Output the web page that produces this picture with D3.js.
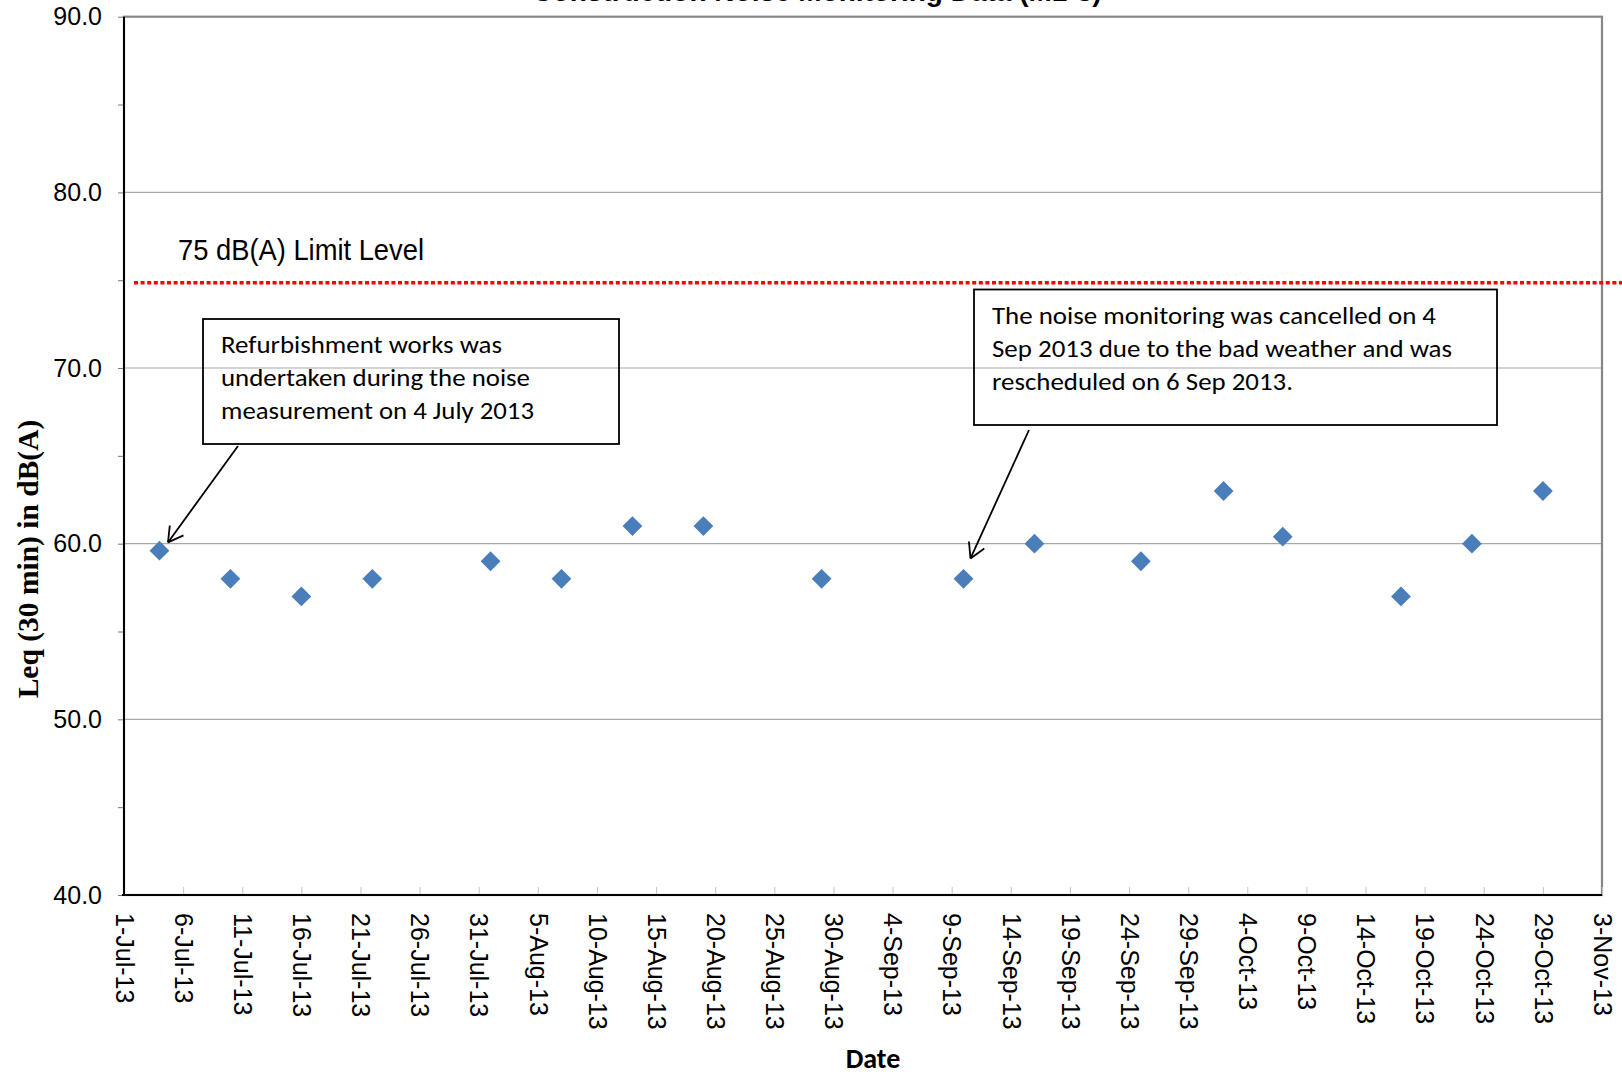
<!DOCTYPE html>
<html lang="en">
<head>
<meta charset="UTF-8">
<script src="https://d3js.org/d3.v7.min.js"></script>
<title>Noise Monitoring Data</title>
<style>
  body { margin: 0; background: #fff; }
  svg { display: block; font-family: "Liberation Sans", Arial, sans-serif; }
</style>
</head>
<body>
<svg id="chart" width="1622" height="1076"></svg>
<script>
// measurement dates and Leq (30 min) readings
const measureDates = ["2013-07-04", "2013-07-10", "2013-07-16", "2013-07-22", "2013-08-01",
    "2013-08-07", "2013-08-13", "2013-08-19", "2013-08-29", "2013-09-10", "2013-09-16",
    "2013-09-25", "2013-10-02", "2013-10-07", "2013-10-17", "2013-10-23", "2013-10-29"];
const leqValues = [59.6, 58.0, 57.0, 58.0, 59.0, 58.0, 61.0, 61.0, 58.0, 58.0, 60.0,
    59.0, 63.0, 60.4, 57.0, 60.0, 63.0];

const dateRange = ["2013-07-01", "2013-11-03"];
const yTicks = [40, 45, 50, 55, 60, 65, 70, 75, 80, 85, 90];
const gridValues = [50, 60, 70, 80];
const limitLevel = 74.85;   // dotted line sits just under 75 in the picture
const limitLabel = "75 dB(A) Limit Level";

const titleText = "Construction Noise Monitoring Data (M1-3)";
const yTitle = "Leq (30 min) in dB(A)";
const xTitle = "Date";

const note1 = ["Refurbishment works was", "undertaken during the noise", "measurement on 4 July 2013"];
const note2 = ["The noise monitoring was cancelled on 4", "Sep 2013 due to the bad weather and was",
    "rescheduled on 6 Sep 2013."];

const W = 1622, H = 1076;
const plotL = 124, plotR = 1602, plotT = 16.7, plotB = 895;

const svg = d3.select("#chart");
const parse = d3.utcParse("%Y-%m-%d");

const x = d3.scaleUtc()
    .domain(dateRange.map(parse))
    .range([plotL, plotR]);
const y = d3.scaleLinear()
    .domain([40, 90])
    .range([plotB, plotT]);

// title, mostly above the page edge like the original
svg.append("text")
    .attr("x", 817).attr("y", 1)
    .attr("text-anchor", "middle")
    .style("font-size", "28px").style("font-weight", "bold")
    .text(titleText);

// gridlines
svg.append("g").selectAll("line")
    .data(gridValues)
    .join("line")
    .attr("x1", plotL).attr("x2", plotR)
    .attr("y1", d => y(d)).attr("y2", d => y(d))
    .attr("stroke", "#a8a8a8").attr("stroke-width", 1.2);

// plot frame
svg.append("rect")
    .attr("x", plotL).attr("y", plotT)
    .attr("width", plotR - plotL).attr("height", plotB - plotT)
    .attr("fill", "none").attr("stroke", "#878787").attr("stroke-width", 2.2);

// y axis
const yAxis = svg.append("g")
    .attr("transform", `translate(${plotL},0)`)
    .call(d3.axisLeft(y).tickValues(yTicks).tickSize(6).tickPadding(16)
        .tickFormat(d => d % 10 === 0 ? d.toFixed(1) : ""));
yAxis.select(".domain").remove();
yAxis.selectAll(".tick line").attr("stroke", "#777");
yAxis.selectAll("text").style("font-size", "25px").attr("fill", "#000")
    .style("font-family", "'Liberation Sans', Arial, sans-serif");

// x axis, ticks every five days, labels turned downwards
const tickDates = d3.utcDay.range(x.domain()[0], d3.utcDay.offset(x.domain()[1], 1), 5);
const xAxis = svg.append("g")
    .attr("transform", `translate(0,${plotB})`)
    .call(d3.axisBottom(x).tickValues(tickDates).tickSizeInner(-8).tickSizeOuter(0)
        .tickFormat(d3.utcFormat("%-d-%b-%y")));
xAxis.select(".domain").remove();
xAxis.selectAll(".tick line").attr("stroke", "#c4c4c4");
xAxis.selectAll("text")
    .attr("y", 0).attr("x", 18).attr("dy", "0.35em")
    .attr("transform", "rotate(90)")
    .style("text-anchor", "start")
    .style("font-size", "25px").attr("fill", "#000")
    .style("font-family", "'Liberation Sans', Arial, sans-serif");

// black axis lines on left and bottom
svg.append("line")
    .attr("x1", plotL).attr("x2", plotL).attr("y1", plotT).attr("y2", plotB + 1)
    .attr("stroke", "#000").attr("stroke-width", 2);
svg.append("line")
    .attr("x1", plotL - 2).attr("x2", plotR).attr("y1", plotB).attr("y2", plotB)
    .attr("stroke", "#000").attr("stroke-width", 2);

// axis titles
svg.append("text")
    .attr("transform", "translate(38,559) rotate(-90)")
    .attr("text-anchor", "middle")
    .style("font-family", "'Liberation Serif', 'Times New Roman', serif")
    .style("font-size", "29.5px").style("font-weight", "bold")
    .text(yTitle);
svg.append("text")
    .attr("x", 873).attr("y", 1068)
    .attr("text-anchor", "middle")
    .style("font-family", "Carlito, Lato, sans-serif")
    .style("font-size", "28px").style("font-weight", "bold")
    .text(xTitle);

// limit line
svg.append("line")
    .attr("x1", plotL + 10).attr("x2", W)
    .attr("y1", y(limitLevel)).attr("y2", y(limitLevel))
    .attr("stroke", "#ff0000").attr("stroke-width", 3.6)
    .attr("stroke-dasharray", "4,2.6");
svg.append("text")
    .attr("x", 178).attr("y", 260)
    .attr("textLength", 246).attr("lengthAdjust", "spacingAndGlyphs")
    .style("font-size", "30px")
    .text(limitLabel);

// data points as diamonds
svg.append("g").selectAll("path")
    .data(measureDates.map((d, i) => ({ date: parse(d), value: leqValues[i] })))
    .join("path")
    .attr("d", d3.symbol(d3.symbolSquare, 196))
    .attr("transform", d => `translate(${x(d.date)},${y(d.value)}) rotate(45)`)
    .attr("fill", "#4a7ebb");

// annotations
const notes = svg.append("g");

function noteBox(lines, bx, by, bw, bh, baselines, widths) {
    notes.append("rect")
        .attr("x", bx).attr("y", by).attr("width", bw).attr("height", bh)
        .attr("fill", "none").attr("stroke", "#000").attr("stroke-width", 1.8);
    notes.selectAll(null)
        .data(lines)
        .join("text")
        .attr("x", bx + 18).attr("y", (d, i) => baselines[i])
        .attr("textLength", (d, i) => widths[i]).attr("lengthAdjust", "spacingAndGlyphs")
        .style("font-family", "Carlito, Lato, sans-serif")
        .style("font-size", "24.5px")
        .text(d => d);
}

function arrow(x1, y1, x2, y2) {
    notes.append("line")
        .attr("x1", x1).attr("y1", y1).attr("x2", x2).attr("y2", y2)
        .attr("stroke", "#000").attr("stroke-width", 1.8);
    const back = Math.atan2(y1 - y2, x1 - x2);
    const len = 17, spread = 0.52;
    for (const s of [-1, 1]) {
        notes.append("line")
            .attr("x1", x2).attr("y1", y2)
            .attr("x2", x2 + len * Math.cos(back + s * spread))
            .attr("y2", y2 + len * Math.sin(back + s * spread))
            .attr("stroke", "#000").attr("stroke-width", 1.8);
    }
}

noteBox(note1, 203, 319, 416, 125, [353, 386, 419], [281, 309, 313]);
noteBox(note2, 974, 289.5, 523, 135.5, [324, 357, 390], [444, 460, 301]);

// arrows point at the 4 Jul and the rescheduled September readings
const p1 = [x(parse(measureDates[0])), y(leqValues[0])];
const p2 = [x(parse(measureDates[9])), y(leqValues[9])];
arrow(238, 446, p1[0] + 8.5, p1[1] - 8.3);
arrow(1029, 430, p2[0] + 7, p2[1] - 20.4);
</script>
</body>
</html>
